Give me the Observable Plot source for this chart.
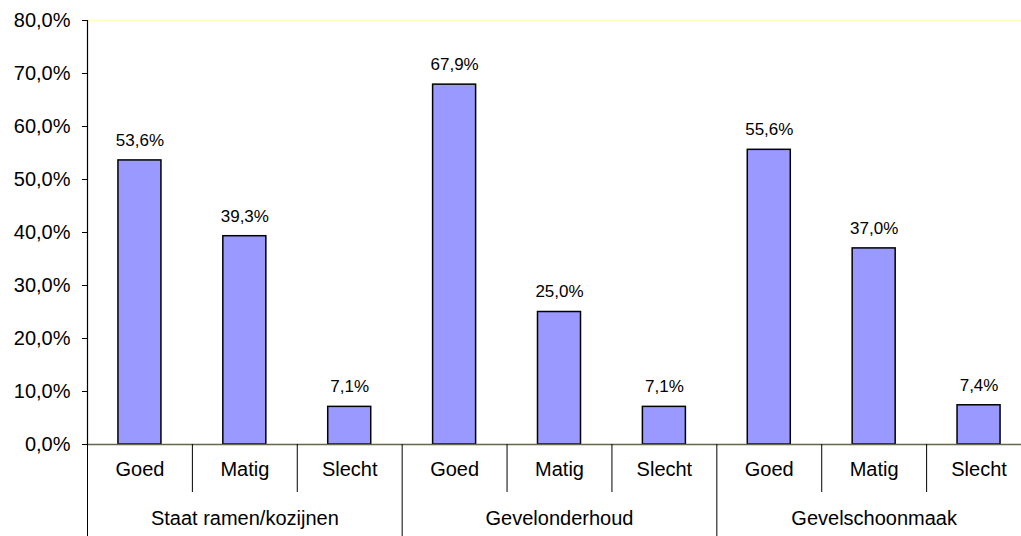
<!DOCTYPE html>
<html><head><meta charset="utf-8">
<script src="https://cdn.jsdelivr.net/npm/d3@7"></script>
<script src="https://cdn.jsdelivr.net/npm/@observablehq/plot@0.6"></script>
<style>
html,body{margin:0;padding:0;background:#fff;}
#chart svg{display:block;}
</style>
</head><body><div id="chart"></div>
<script>
const groups = ["Staat ramen/kozijnen", "Gevelonderhoud", "Gevelschoonmaak"];
const ratings = ["Goed", "Matig", "Slecht"];
const ramenValues = [53.6, 39.3, 7.1];
const onderhoudValues = [67.9, 25.0, 7.1];
const schoonmaakValues = [55.6, 37.0, 7.4];
const yTicks = [0, 10, 20, 30, 40, 50, 60, 70, 80];

const seriesValues = [ramenValues, onderhoudValues, schoonmaakValues];
const rows = [];
groups.forEach((g, gi) => ratings.forEach((r, ri) =>
  rows.push({group: g, rating: r, value: seriesValues[gi][ri], i: gi * ratings.length + ri})));
const groupRows = groups.map((g, gi) => ({group: g, start: gi * ratings.length, mid: gi * ratings.length + ratings.length / 2}));
const catSeps = rows.map(d => d.i).filter(i => i % ratings.length !== 0);
const groupSeps = groupRows.map(d => d.start);
const fmt = v => v.toFixed(1).replace(".", ",") + "%";

const chart = Plot.plot({
  width: 1021,
  height: 536,
  marginTop: 20,
  marginBottom: 92,
  marginLeft: 87,
  marginRight: 0,
  style: {fontFamily: "'Liberation Sans', Arial, sans-serif", background: "#fff", color: "#000"},
  x: {type: "linear", domain: [0, rows.length], range: [87, 1031], axis: null},
  y: {domain: [0, 80], axis: null},
  marks: [
    Plot.ruleY([80], {stroke: "#ffffc0", strokeWidth: 2}),
    Plot.rectY(rows, {x1: d => d.i + 0.295, x2: d => d.i + 0.705, y1: 0, y2: "value", fill: "#9999ff", stroke: "#000", strokeWidth: 1.5}),
    Plot.ruleY([0], {stroke: "#66664d", strokeWidth: 1.5}),
    Plot.ruleX([0], {stroke: "#000", strokeWidth: 1.2}),
    Plot.axisY(yTicks, {anchor: "left", label: null, tickSize: 5, tickPadding: 12, tickFormat: fmt, fontSize: 20}),
    Plot.ruleX(catSeps, {stroke: "#000", insetTop: 424, insetBottom: -48}),
    Plot.ruleX(groupSeps, {stroke: "#000", insetTop: 424, insetBottom: -92}),
    Plot.text(rows, {x: d => d.i + 0.5, text: "rating", frameAnchor: "bottom", dy: 31, fontSize: 20}),
    Plot.text(groupRows, {x: "mid", text: "group", frameAnchor: "bottom", dy: 80, fontSize: 20}),
    Plot.text(rows, {x: d => d.i + 0.5, y: "value", text: d => fmt(d.value), dy: -20, fontSize: 17})
  ]
});
document.getElementById("chart").appendChild(chart);
</script>
</body></html>
